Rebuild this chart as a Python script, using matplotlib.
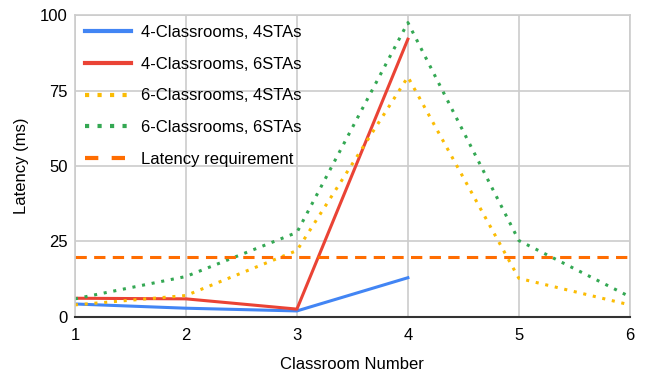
import numpy as np
import matplotlib.pyplot as plt

plt.rcParams['font.family'] = ['Liberation Sans', 'DejaVu Sans']

classroom = [1, 2, 3, 4, 5, 6]
four_rooms_4sta = [4.3, 2.9, 2.0, 13.0, np.nan, np.nan]
four_rooms_6sta = [6.2, 6.0, 2.6, 92.0, np.nan, np.nan]
six_rooms_4sta = [4.0, 7.1, 22.0, 79.5, 12.8, 4.0]
six_rooms_6sta = [6.0, 13.4, 28.0, 97.5, 25.3, 6.7]
requirement = 20

fig, ax = plt.subplots(figsize=(6.46, 3.76), dpi=100)
fig.subplots_adjust(left=0.116, right=0.975, top=0.96, bottom=0.157)

lw = 2.2
dot = (0, (1, 2.2))
ax.plot(classroom, four_rooms_4sta, color='#4285F4', lw=lw, label='4-Classrooms, 4STAs')
ax.plot(classroom, four_rooms_6sta, color='#EA4335', lw=lw, label='4-Classrooms, 6STAs')
ax.plot(classroom, six_rooms_4sta, color='#FBBC04', lw=lw, ls=dot, label='6-Classrooms, 4STAs')
ax.plot(classroom, six_rooms_6sta, color='#34A853', lw=lw, ls=dot, label='6-Classrooms, 6STAs')
ax.axhline(requirement, color='#FF6D01', lw=lw, ls=(0, (3.7, 2.4)), label='Latency requirement')

ax.set_xlim(1, 6)
ax.set_ylim(0, 100)
ax.set_xticks(classroom)
ax.set_yticks([0, 25, 50, 75, 100])
ax.grid(True, color='#cccccc', lw=1.2)
ax.set_axisbelow(True)
for s in ['top', 'right', 'left']:
    ax.spines[s].set_color('#cccccc')
    ax.spines[s].set_linewidth(1.2)
ax.spines['bottom'].set_color('#333333')
ax.spines['bottom'].set_linewidth(1.5)
ax.tick_params(axis='y', length=0, labelsize=12, pad=5)
ax.tick_params(axis='x', length=0, labelsize=12, pad=8)

ax.set_xlabel('Classroom Number', fontsize=12, labelpad=10)
ax.set_ylabel('Latency (ms)', fontsize=12, labelpad=8)

leg = ax.legend(loc='upper left', frameon=False, fontsize=12, handlelength=2.75,
                labelspacing=1.0, borderaxespad=0.1, borderpad=0.5, handletextpad=0.6)
# thicker legend keys
for ln in leg.get_lines():
    ln.set_linewidth(3)
for ln in leg.get_lines()[2:4]:
    ln.set_linestyle((0, (1, 2)))
leg.get_lines()[4].set_linestyle((0, (3.2, 3.2)))

fig.savefig('out.png', dpi=100)
